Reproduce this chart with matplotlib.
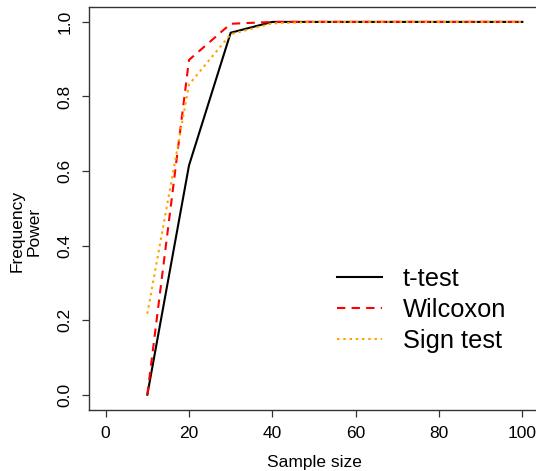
import numpy as np
import matplotlib
matplotlib.use("Agg")
import matplotlib.pyplot as plt

plt.rcParams["font.family"] = ["Liberation Sans", "DejaVu Sans"]

sample_size = [10, 20, 30, 40, 50, 60, 70, 80, 90, 100]
t_test = [0.0, 0.615, 0.971, 1.0, 1.0, 1.0, 1.0, 1.0, 1.0, 1.0]
wilcoxon = [0.0, 0.898, 0.995, 1.0, 1.0, 1.0, 1.0, 1.0, 1.0, 1.0]
sign_test = [0.217, 0.832, 0.967, 0.996, 1.0, 1.0, 1.0, 1.0, 1.0, 1.0]

xticks = [0, 20, 40, 60, 80, 100]
yticks = [0.0, 0.2, 0.4, 0.6, 0.8, 1.0]

fig = plt.figure(figsize=(5.36, 4.71), dpi=100)
# plot region is cut off on the right like the original
ax = fig.add_axes([89 / 536, 1 - 409.6 / 471, 450 / 536, (409.6 - 7) / 471])

ax.plot(sample_size, t_test, color="black", lw=1.5, label="t-test")
ax.plot(sample_size, wilcoxon, color="red", lw=1.5, dashes=(4, 3), label="Wilcoxon")
ax.plot(sample_size, sign_test, color="orange", lw=1.5, dashes=(1.2, 1.8), label="Sign test")

ax.set_xlim(-4, 104)
ax.set_ylim(-0.04, 1.04)
ax.set_xticks(xticks)
ax.set_xticklabels([str(v) for v in xticks], fontsize=12.5)
ax.set_yticks(yticks)
ax.set_yticklabels(["%.1f" % v for v in yticks], fontsize=12.5, rotation=90, va="center")
ax.tick_params(direction="out", length=5, width=0.9, color="#333333", pad=7)

for s in ax.spines.values():
    s.set_color("#333333")
    s.set_linewidth(1.0)

fig.text(314 / 536, 1 - 462 / 471, "Sample size", ha="center", va="center", fontsize=12.5)
fig.text(25.5 / 536, 1 - 231 / 471, "Frequency\nPower", rotation=90, ha="center", va="center",
         fontsize=12.5, multialignment="center", linespacing=1.15)

leg = ax.legend(loc="center left", bbox_to_anchor=(0.522, 0.247), frameon=False, fontsize=18.3,
                handlelength=1.8, handletextpad=0.8, labelspacing=0.28, borderpad=0)

fig.savefig("out.png", dpi=100)
